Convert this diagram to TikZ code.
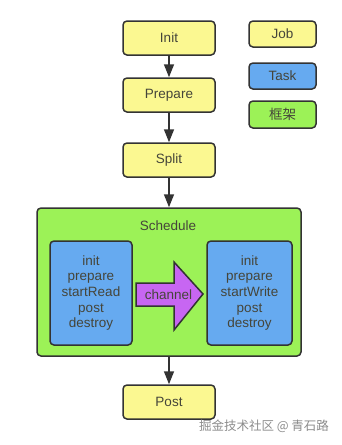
\documentclass[tikz,border=0pt]{standalone}
\usepackage{fontspec}
\setmainfont{Liberation Sans}
\newfontfamily\cjk{Noto Sans CJK SC}
\usetikzlibrary{arrows.meta}
\definecolor{jobc}{HTML}{FBF891}
\definecolor{taskc}{HTML}{66AAF0}
\definecolor{frmc}{HTML}{9CF257}
\definecolor{chanc}{HTML}{C766F2}
\definecolor{edgec}{HTML}{333333}
\definecolor{txtc}{HTML}{45453A}
\begin{document}
\begin{tikzpicture}[x=1pt,y=-1pt,
  box/.style={draw=edgec,line width=1.5pt,rounded corners=4pt,inner sep=0pt,
    font=\fontsize{13.5}{15.7}\selectfont,text=txtc,align=center},
  jobbox/.style={box,fill=jobc,minimum width=92pt,minimum height=34pt},
  legbox/.style={box,minimum width=67pt,minimum height=26pt},
  taskbox/.style={box,fill=taskc,minimum height=104pt},
  lbl/.style={font=\fontsize{13.5}{15}\selectfont,text=txtc,inner sep=0pt},
  conn/.style={draw=edgec,line width=1.5pt,-{Triangle[length=13pt,width=10pt]}}]
\useasboundingbox (0,0) rectangle (342,445);
\node[jobbox] (init) at (169,38) {Init};
\node[jobbox] (prep) at (169,95) {Prepare};
\node[jobbox] (split) at (169,160) {Split};
\node[box,fill=frmc,minimum width=264pt,minimum height=148pt] (sched) at (169,282) {};
\node[lbl] (schedlbl) at (168,226) {Schedule};
\node[taskbox,minimum width=82pt] (reader) at (91,293) {init\\prepare\\startRead\\post\\destroy};
\node[taskbox,minimum width=85pt] (writer) at (249.5,293) {init\\prepare\\startWrite\\post\\destroy};
\draw[draw=edgec,line width=1.5pt,fill=chanc,line join=miter]
  (136,283) -- (174,283) -- (174,262) -- (203,294) -- (174,330) -- (174,306) -- (136,306) -- cycle;
\node[lbl] (chan) at (168.5,294.5) {channel};
\node[jobbox] (post) at (169,402) {Post};
\node[legbox,fill=jobc] (job) at (282.5,34) {Job};
\node[legbox,fill=taskc] (task) at (282.5,76) {Task};
\node[legbox,fill=frmc,minimum height=27pt] (frm) at (282.5,114.5) {\cjk 框架};
\draw[conn] (init) -- (prep);
\draw[conn] (prep) -- (split);
\draw[conn] (split) -- (sched);
\draw[conn] (sched) -- (post);
\node[text=black!45,font=\cjk\fontsize{12.5}{14}\selectfont] (wm) at (264,426) {掘金技术社区 @ 青石路};
\end{tikzpicture}
\end{document}
